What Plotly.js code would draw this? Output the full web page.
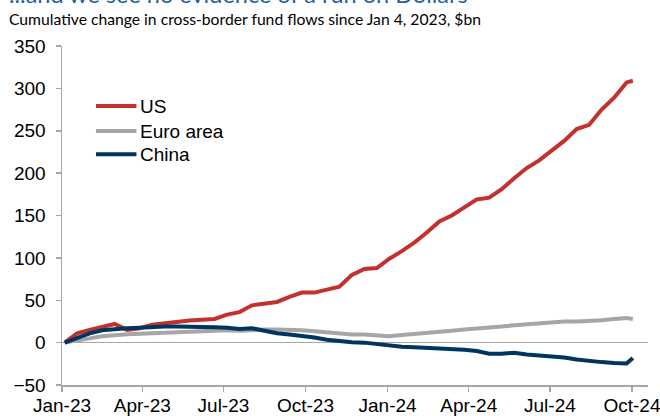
<!DOCTYPE html>
<html>
<head>
<meta charset="utf-8">
<script src="https://cdn.plot.ly/plotly-3.0.1.min.js"></script>
<style>
html,body{margin:0;padding:0;background:#fff;}
#chart{width:660px;height:416px;}
</style>
</head>
<body>
<div id="chart"></div>
<script>
// Dates (biweekly Wednesdays from Jan 4, 2023)
const dates = ["2023-01-04","2023-01-18","2023-02-01","2023-02-15","2023-03-01","2023-03-15","2023-03-29","2023-04-12","2023-04-26","2023-05-10","2023-05-24","2023-06-07","2023-06-21","2023-07-05","2023-07-19","2023-08-02","2023-08-16","2023-08-30","2023-09-13","2023-09-27","2023-10-11","2023-10-25","2023-11-08","2023-11-22","2023-12-06","2023-12-20","2024-01-03","2024-01-17","2024-01-31","2024-02-14","2024-02-28","2024-03-13","2024-03-27","2024-04-10","2024-04-24","2024-05-08","2024-05-22","2024-06-05","2024-06-19","2024-07-03","2024-07-17","2024-07-31","2024-08-14","2024-08-28","2024-09-11","2024-09-25","2024-10-02"];

const usFlows    = [0,11,15,18,22,15,17,21,23,25,26,27,28,33,36,44,46,48,54,59,59,62,66,80,87,88,99,108,118,130,143,150,160,169,171,181,194,206,215,226,238,252,257,275,289,307,309];
const euroFlows  = [0,2,5,7.5,9,10,10.5,11,12,12.5,13,14,14.5,14.5,14,15,15.5,15.5,15.5,14.5,13.5,12,10,9.5,9.5,8,7.5,9,10,11.5,12.5,14,15.5,16.5,17,19,20.5,21.5,22.5,24.5,25,25,25.5,26.5,28,29,28];
const chinaFlows = [0,5,11,14.5,16,17,17.5,18.5,19,19,19,18.5,18,17.5,16,17,14,11,9.5,8,6,3.5,1.5,0.5,0,-1.5,-4,-5,-5.5,-6,-7,-7.5,-8.5,-10,-13,-13,-12,-14,-15,-16,-17.5,-20,-22,-23,-24,-24.5,-18];

const seriesNames = ["US","Euro area","China"];
const tickDates = ["2023-01-01","2023-04-01","2023-07-01","2023-10-01","2024-01-01","2024-04-01","2024-07-01","2024-10-01"];
const tickLabels = ["Jan-23","Apr-23","Jul-23","Oct-23","Jan-24","Apr-24","Jul-24","Oct-24"];
const yTicks = [-50,0,50,100,150,200,250,300,350];

const titleText = "...and we see no evidence of a run on Dollars";
const subtitleText = "Cumulative change in cross-border fund flows since Jan 4, 2023, $bn";

const colors = ["#C3312F","#A6A6A6","#00355F"];
const values = [usFlows, euroFlows, chinaFlows];

const traces = values.map((v,i)=>({
  x: dates, y: v, name: seriesNames[i], type: "scatter", mode: "lines",
  line: {color: colors[i], width: 4, shape: "linear"}, showlegend: false
}));

// Manual legend (paper coordinates)
const legendY = [0.823, 0.749, 0.681];
const shapes = seriesNames.map((n,i)=>({
  type: "line", xref: "paper", yref: "paper",
  x0: 0.058, x1: 0.127, y0: legendY[i], y1: legendY[i],
  line: {color: colors[i], width: 4}
}));
const legendAnn = seriesNames.map((n,i)=>({
  text: n, xref: "paper", yref: "paper", x: 0.129, xanchor: "left",
  y: legendY[i], yanchor: "middle", showarrow: false,
  font: {size: 19, color: "#000"}
}));

const axisGray = "#A6A6A6";
const layout = {
  width: 660, height: 416,
  margin: {l: 62, r: 12, t: 46, b: 31},
  paper_bgcolor: "#fff", plot_bgcolor: "#fff",
  font: {family: "Liberation Sans, Arial, sans-serif", size: 19, color: "#000"},
  showlegend: false,
  xaxis: {
    type: "date", range: ["2023-01-01","2024-10-19"],
    tickmode: "array", tickvals: tickDates, ticktext: tickLabels,
    showgrid: false, zeroline: false, showline: true, linecolor: axisGray, linewidth: 1.5,
    ticks: "outside", ticklen: 5, tickcolor: axisGray, tickwidth: 1.5,
    tickfont: {size: 19, color: "#000"}, ticklabeloverflow: "allow", ticklabelstandoff: -2
  },
  yaxis: {
    range: [-50, 350], tickmode: "array", tickvals: yTicks,
    showgrid: false, zeroline: true, zerolinecolor: axisGray, zerolinewidth: 1.5,
    showline: true, linecolor: axisGray, linewidth: 1.5,
    ticks: "outside", ticklen: 5, tickcolor: axisGray, tickwidth: 1.5,
    tickfont: {size: 19, color: "#000"}, ticklabelstandoff: 6
  },
  shapes: shapes,
  annotations: [
    {text: titleText, xref: "paper", yref: "paper",
     x: -0.094, xanchor: "left", y: 1.1545, yanchor: "middle", showarrow: false,
     font: {family: "Lato, sans-serif", size: 23.5, color: "#1F5FA8"}},
    {text: subtitleText, xref: "paper", yref: "paper",
     x: -0.094, xanchor: "left", y: 1.0796, yanchor: "middle", showarrow: false,
     font: {family: "Lato, sans-serif", size: 15.7, color: "#000"}}
  ].concat(legendAnn)
};

Plotly.newPlot("chart", traces, layout, {displayModeBar: false, staticPlot: true});
</script>
</body>
</html>
